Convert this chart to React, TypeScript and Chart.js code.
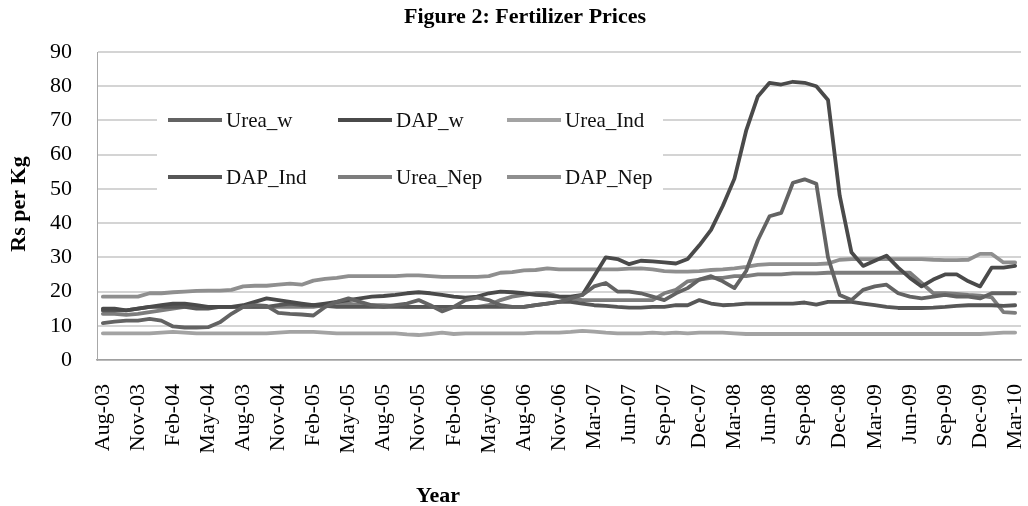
import React, { useEffect, useRef } from 'react';
import { Chart, registerables } from 'chart.js';

Chart.register(...registerables);

// 79 monthly categories (Jan-07 absent in source); tick shown every 3rd
const categories = [
  'Aug-03', 'Sep-03', 'Oct-03', 'Nov-03', 'Dec-03', 'Jan-04', 'Feb-04', 'Mar-04', 'Apr-04', 'May-04',
  'Jun-04', 'Jul-04', 'Aug-03', 'Sep-04', 'Oct-04', 'Nov-04', 'Dec-04', 'Jan-05', 'Feb-05', 'Mar-05',
  'Apr-05', 'May-05', 'Jun-05', 'Jul-05', 'Aug-05', 'Sep-05', 'Oct-05', 'Nov-05', 'Dec-05', 'Jan-06',
  'Feb-06', 'Mar-06', 'Apr-06', 'May-06', 'Jun-06', 'Jul-06', 'Aug-06', 'Sep-06', 'Oct-06', 'Nov-06',
  'Dec-06', 'Feb-07', 'Mar-07', 'Apr-07', 'May-07', 'Jun-07', 'Jul-07', 'Aug-07', 'Sep-07', 'Oct-07',
  'Nov-07', 'Dec-07', 'Jan-08', 'Feb-08', 'Mar-08', 'Apr-08', 'May-08', 'Jun-08', 'Jul-08', 'Aug-08',
  'Sep-08', 'Oct-08', 'Nov-08', 'Dec-08', 'Jan-09', 'Feb-09', 'Mar-09', 'Apr-09', 'May-09', 'Jun-09',
  'Jul-09', 'Aug-09', 'Sep-09', 'Oct-09', 'Nov-09', 'Dec-09', 'Jan-10', 'Feb-10', 'Mar-10',
];

const ureaW = [
  10.8, 11.2, 11.5, 11.5, 12, 11.5, 9.8, 9.5, 9.5, 9.6,
  11, 13.5, 15.5, 16, 15.8, 13.8, 13.5, 13.3, 13, 15.5,
  17, 18, 17, 16, 15.5, 16, 16.5, 17.5, 16, 14.2,
  15.5, 17.5, 18.2, 17.5, 16, 15.5, 15.5, 16, 16.5, 17,
  18, 19, 21.5, 22.5, 20, 20, 19.5, 18.5, 17.5, 19.5,
  21, 23.5, 24.5, 23, 21, 26, 35, 42, 43, 51.8,
  52.8, 51.5, 30, 19, 17.5, 20.5, 21.5, 22, 19.5, 18.5,
  18, 18.5, 19, 18.5, 18.5, 18, 19.5, 19.5, 19.5,
];

const dapW = [
  15, 15, 14.5, 15, 15.5, 16, 16.5, 16.5, 16, 15.5,
  15.5, 15.5, 16, 17, 18, 17.5, 17, 16.5, 16, 16.5,
  17, 17.5, 18, 18.5, 18.7, 19, 19.5, 19.8, 19.5, 19,
  18.5, 18.2, 18.5, 19.5, 20, 19.8, 19.5, 19, 18.8, 18.5,
  18.5, 19, 24.5, 30, 29.5, 28, 29, 28.8, 28.5, 28.2,
  29.5, 33.5, 38, 45, 53, 67, 77, 81, 80.5, 81.3,
  81, 80, 76, 48, 31.5, 27.5, 29, 30.5, 27, 24,
  21.5, 23.5, 25, 25, 23, 21.5, 27, 27, 27.5,
];

const ureaInd = [
  7.8, 7.8, 7.8, 7.8, 7.8, 8, 8.2, 8, 7.8, 7.8,
  7.8, 7.8, 7.8, 7.8, 7.8, 8, 8.2, 8.2, 8.2, 8,
  7.8, 7.8, 7.8, 7.8, 7.8, 7.8, 7.5, 7.3, 7.6, 8,
  7.6, 7.8, 7.8, 7.8, 7.8, 7.8, 7.8, 8, 8, 8,
  8.2, 8.5, 8.3, 8, 7.8, 7.8, 7.8, 8, 7.8, 8,
  7.8, 8, 8, 8, 7.8, 7.6, 7.6, 7.6, 7.6, 7.6,
  7.6, 7.6, 7.6, 7.6, 7.6, 7.6, 7.6, 7.6, 7.6, 7.6,
  7.6, 7.6, 7.6, 7.6, 7.6, 7.6, 7.8, 8, 8,
];

const dapInd = [
  14.5, 14.5, 14.5, 15, 15.5, 15.5, 15.5, 15.5, 15, 15,
  15.5, 15.5, 15.5, 15.5, 15.5, 16, 16.5, 16, 16, 15.8,
  15.5, 15.5, 15.5, 15.5, 15.5, 15.5, 15.5, 15.5, 15.5, 15.5,
  15.5, 15.5, 15.5, 15.5, 15.5, 15.5, 15.5, 16, 16.5, 17,
  17, 16.5, 16, 15.8, 15.5, 15.3, 15.3, 15.5, 15.5, 16,
  16, 17.5, 16.5, 16, 16.2, 16.5, 16.5, 16.5, 16.5, 16.5,
  16.8, 16.2, 17, 17, 17, 16.5, 16, 15.5, 15.2, 15.2,
  15.2, 15.3, 15.5, 15.8, 16, 16, 16, 15.8, 16,
];

const ureaNep = [
  13.5, 13.5, 13.2, 13.5, 14, 14.5, 15, 15.5, 15.5, 15.5,
  15.5, 15.5, 15.5, 15.5, 15.5, 15.5, 15.5, 15.5, 15.5, 16,
  16.5, 16.5, 16, 16, 16, 15.8, 15.5, 15.5, 15.5, 15.5,
  15.5, 15.5, 15.5, 16, 17.5, 18.5, 19, 19.5, 19.5, 18.5,
  18, 17.5, 17.5, 17.5, 17.5, 17.5, 17.5, 17.5, 19.5, 20.5,
  23, 23.5, 24, 24, 24.5, 24.5, 25, 25, 25, 25.3,
  25.3, 25.3, 25.5, 25.5, 25.5, 25.5, 25.5, 25.5, 25.5, 25.5,
  22.5, 19.5, 19.5, 19.3, 19, 18.8, 18.3, 14, 13.8,
];

const dapNep = [
  18.5, 18.5, 18.5, 18.5, 19.5, 19.5, 19.8, 20, 20.2, 20.3,
  20.3, 20.5, 21.5, 21.7, 21.7, 22, 22.3, 22, 23.2, 23.7,
  24, 24.5, 24.5, 24.5, 24.5, 24.5, 24.7, 24.7, 24.5, 24.3,
  24.3, 24.3, 24.3, 24.5, 25.5, 25.7, 26.2, 26.3, 26.8, 26.5,
  26.5, 26.5, 26.5, 26.5, 26.5, 26.7, 26.8, 26.5, 26, 25.8,
  25.8, 26, 26.3, 26.5, 26.8, 27.2, 27.8, 28, 28, 28,
  28, 28, 28.2, 29.3, 29.5, 29.5, 29.5, 29.5, 29.5, 29.5,
  29.5, 29.3, 29.2, 29.2, 29.3, 31, 31, 28.5, 28.5,
];

const seriesNames = ['Urea_w', 'DAP_w', 'Urea_Ind', 'DAP_Ind', 'Urea_Nep', 'DAP_Nep'];
const seriesValues = [ureaW, dapW, ureaInd, dapInd, ureaNep, dapNep];
const seriesColors = ['#636363', '#4a4a4a', '#a3a3a3', '#575757', '#7d7d7d', '#8f8f8f'];

const yTicks = [0, 10, 20, 30, 40, 50, 60, 70, 80, 90];

const SERIF = "'Liberation Serif', 'Times New Roman', serif";

export default function App() {
  const ref = useRef<HTMLCanvasElement | null>(null);

  useEffect(() => {
    document.body.style.margin = '0';
    const canvas = ref.current;
    if (!canvas) return;

    const overlay = {
      id: 'overlay',
      afterDatasetsDraw(chart: any) {
        const ctx = chart.ctx as CanvasRenderingContext2D;
        const area = chart.chartArea;
        ctx.save();
        // legend box inside plot
        const bx = area.left + 60;
        const by = area.top + 43;
        ctx.fillStyle = '#ffffff';
        ctx.fillRect(bx, by, 506, 112);
        const colX = [bx + 11, bx + 181, bx + 350];
        const rowY = [area.top + 68, area.top + 125];
        ctx.font = `21px ${SERIF}`;
        ctx.textBaseline = 'middle';
        ctx.textAlign = 'left';
        seriesNames.forEach((name, k) => {
          const r = Math.floor(k / 3);
          const c = k % 3;
          const x = colX[c];
          const y = rowY[r];
          ctx.strokeStyle = seriesColors[k];
          ctx.lineWidth = 4;
          ctx.lineCap = 'butt';
          ctx.beginPath();
          ctx.moveTo(x, y);
          ctx.lineTo(x + 54, y);
          ctx.stroke();
          ctx.fillStyle = '#111';
          ctx.fillText(name, x + 58, y + 1);
        });
        ctx.restore();
      },
      afterDraw(chart: any) {
        const ctx = chart.ctx as CanvasRenderingContext2D;
        ctx.save();
        ctx.fillStyle = '#000';
        ctx.textAlign = 'center';
        ctx.textBaseline = 'middle';
        ctx.font = `bold 22px ${SERIF}`;
        ctx.fillText('Figure 2: Fertilizer Prices', 525, 17);
        ctx.font = `bold 22px ${SERIF}`;
        ctx.fillText('Year', 438, 496);
        ctx.translate(19, 204);
        ctx.rotate(-Math.PI / 2);
        ctx.font = `bold 22px ${SERIF}`;
        ctx.fillText('Rs per Kg', 0, 0);
        ctx.restore();
      },
    };

    const chart = new Chart(canvas, {
      type: 'line',
      data: {
        labels: categories,
        datasets: seriesNames.map((name, k) => ({
          label: name,
          data: seriesValues[k],
          borderColor: seriesColors[k],
          backgroundColor: seriesColors[k],
          borderWidth: 3.8,
          pointRadius: 0,
          pointHoverRadius: 0,
          tension: 0,
          fill: false,
          borderJoinStyle: 'round' as const,
          borderCapStyle: 'round' as const,
        })),
      },
      options: {
        responsive: false,
        animation: false,
        layout: { padding: { top: 52, right: 7, left: 0, bottom: 0 } },
        plugins: {
          legend: { display: false },
          title: { display: false },
          tooltip: { enabled: false },
        },
        scales: {
          x: {
            type: 'category',
            offset: true,
            grid: { display: false, drawTicks: false },
            border: { display: true, color: '#a0a0a0', width: 1.5 },
            ticks: {
              autoSkip: false,
              maxRotation: 90,
              minRotation: 90,
              padding: 24,
              color: '#000',
              font: { family: SERIF, size: 22 },
              callback: function (this: any, value: any, index: number) {
                return index % 3 === 0 ? this.getLabelForValue(value) : '';
              },
            },
            afterFit: (scale: any) => {
              scale.height = 146;
              scale.paddingLeft = 0;
              scale.paddingRight = 0;
            },
          },
          y: {
            min: 0,
            max: 90,
            afterBuildTicks: (scale: any) => {
              scale.ticks = yTicks.map((v) => ({ value: v }));
            },
            grid: { color: '#d4d4d4', lineWidth: 2, drawTicks: false },
            border: { display: true, color: '#a8a8a8', width: 1 },
            ticks: {
              padding: 25,
              color: '#000',
              font: { family: SERIF, size: 22 },
            },
            afterFit: (scale: any) => {
              scale.width = 97;
              scale.paddingTop = 0;
              scale.paddingBottom = 0;
            },
          },
        },
      },
      plugins: [overlay],
    });

    return () => chart.destroy();
  }, []);

  return (
    <div style={{ width: 1028, height: 506, position: 'relative' }}>
      <canvas ref={ref} width={1028} height={506} />
    </div>
  );
}
